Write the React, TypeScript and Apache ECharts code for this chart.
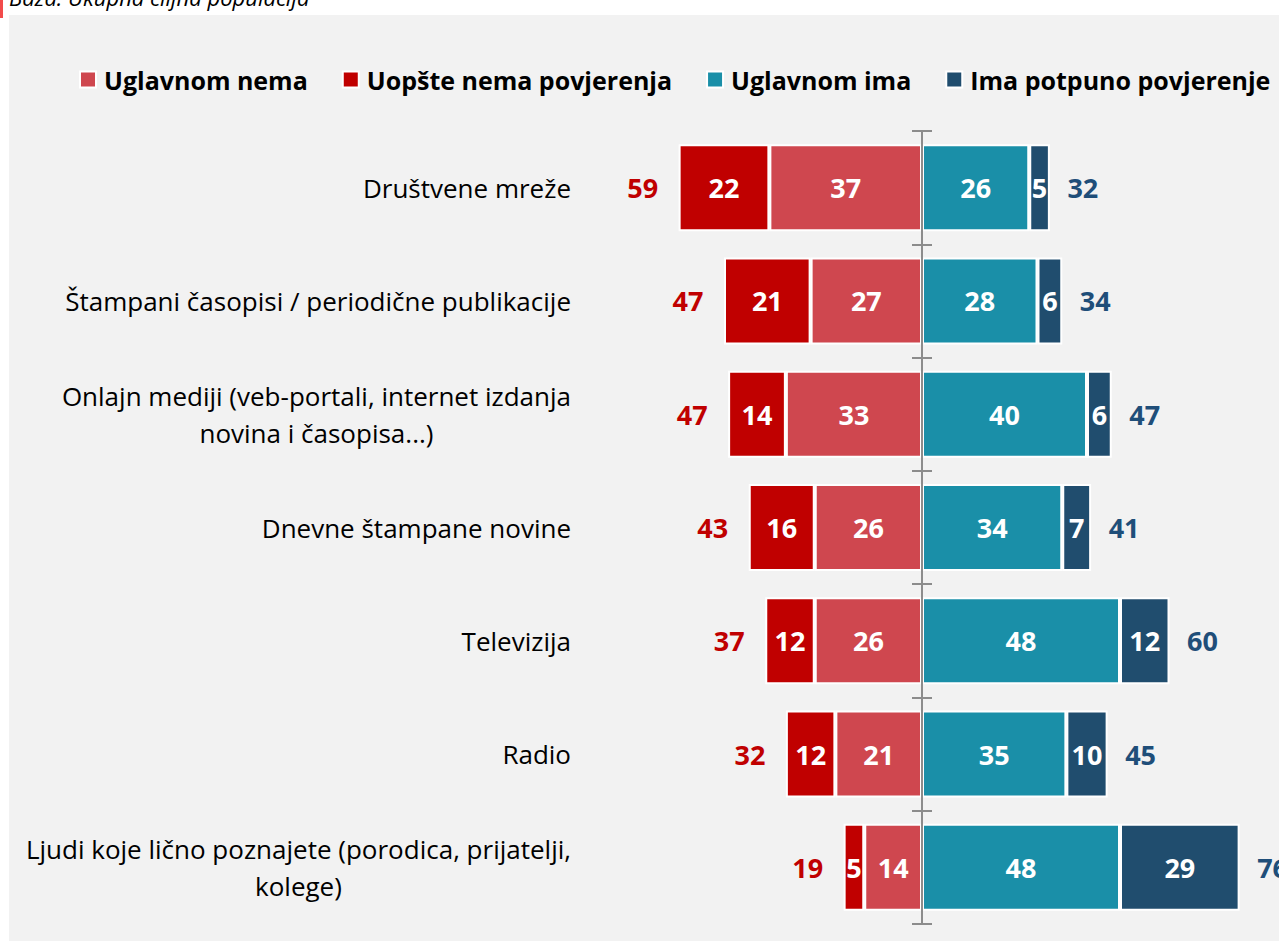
import React, { useEffect, useRef } from "react";
import * as echarts from "echarts";

const categories = [
  "Društvene mreže",
  "Štampani časopisi / periodične publikacije",
  "Onlajn mediji (veb-portali, internet izdanja\nnovina i časopisa...)",
  "Dnevne štampane novine",
  "Televizija",
  "Radio",
  "Ljudi koje lično poznajete (porodica, prijatelji,\nkolege)",
];
const uglavnomNema = [37, 27, 33, 26, 26, 21, 14];
const uopsteNema = [22, 21, 14, 16, 12, 12, 5];
const uglavnomIma = [26, 28, 40, 34, 48, 35, 48];
const potpunoIma = [5, 6, 6, 7, 12, 10, 29];
const totalNema = [59, 47, 47, 43, 37, 32, 19];
const totalIma = [32, 34, 47, 41, 60, 45, 76];

const seriesNames = ["Uglavnom nema", "Uopšte nema povjerenja", "Uglavnom ima", "Ima potpuno povjerenje"];
const colors = ["#CF474F", "#C00000", "#1A8FA8", "#204D6E"];

const FONT = "'Open Sans', 'Noto Sans', sans-serif";

export default function App() {
  const ref = useRef<HTMLDivElement>(null);
  useEffect(() => {
    if (!ref.current) return;
    const chart = echarts.init(ref.current, null, { renderer: "svg" });
    const barLabel = {
      show: true,
      position: "inside",
      color: "#ffffff",
      fontFamily: FONT,
      fontWeight: "bold",
      fontSize: 27,
      formatter: (p: any) => String(Math.abs(p.value)),
    };
    const barCommon = {
      type: "bar",
      stack: "total",
      barWidth: 87,
      label: barLabel,
      emphasis: { disabled: true },
    };
    const leftEnds = uglavnomNema.map((v, i) => [-(v + uopsteNema[i]), categories[i], totalNema[i]]);
    const rightEnds = uglavnomIma.map((v, i) => [v + potpunoIma[i], categories[i], totalIma[i]]);
    const gridLeft = 592;
    const zeroX = 922;
    const totalLabel = (pos: string, dist: number, color: string) => ({
      show: true,
      position: pos,
      distance: dist,
      color,
      opacity: 1,
      fontFamily: FONT,
      fontWeight: "bold",
      fontSize: 27,
      formatter: (p: any) => String(p.value[2]),
    });
    chart.setOption({
      animation: false,
      backgroundColor: "transparent",
      textStyle: { fontFamily: FONT },
      graphic: [
        { type: "rect", shape: { x: 9, y: 15, width: 1280, height: 926 }, style: { fill: "#F2F2F2" }, z: -10 },
        { type: "rect", shape: { x: 0, y: 0, width: 3, height: 18 }, style: { fill: "#F24B4B" }, z: -5 },
        {
          type: "text",
          x: 9,
          y: -14,
          style: {
            text: "Baza: Ukupna ciljna populacija",
            font: "italic 22px 'Open Sans', sans-serif",
            fill: "#000000",
            verticalAlign: "top",
          },
          z: -5,
        },
      ],
      legend: {
        top: 67,
        left: 79,
        width: 1200,
        padding: 0,
        itemWidth: 16,
        itemHeight: 16,
        itemGap: 34,
        icon: "rect",
        data: seriesNames,
        textStyle: { fontFamily: FONT, fontWeight: "bold", fontSize: 25, color: "#000000", padding: [0, 0, 0, 3] },
      },
      grid: { left: gridLeft, right: 27, top: 131, bottom: 21, containLabel: false, outerBoundsMode: "none" },
      xAxis: { type: "value", min: -80, max: 80, show: false, splitLine: { show: false } },
      yAxis: [
        {
          type: "category",
          data: categories,
          inverse: true,
          z: 10,
          axisLine: { onZero: true, lineStyle: { color: "#8C8C8C", width: 2 } },
          axisTick: { show: true, length: 10, lineStyle: { color: "#8C8C8C", width: 2 } },
          axisLabel: {
            margin: gridLeft - 571,
            align: "right",
            color: "#000000",
            fontFamily: FONT,
            fontSize: 26,
            lineHeight: 37,
            formatter: (v: string) =>
              v.includes("\n") ? v.split("\n").map((l) => `{c|${l}}`).join("\n") : v,
            rich: {
              c: { align: "center", fontFamily: FONT, fontSize: 26, lineHeight: 37, color: "#000000" },
            },
          },
        },
        {
          type: "category",
          data: categories,
          inverse: true,
          z: 10,
          position: "left",
          offset: -(zeroX - gridLeft),
          axisLine: { show: false, onZero: false },
          axisTick: { show: true, inside: true, length: 10, lineStyle: { color: "#8C8C8C", width: 2 } },
          axisLabel: { show: false },
        },
      ],
      series: [
        {
          ...barCommon,
          name: seriesNames[0],
          data: uglavnomNema.map((v) => -v),
          itemStyle: { color: colors[0], borderColor: "#ffffff", borderWidth: 2 },
        },
        {
          ...barCommon,
          name: seriesNames[1],
          data: uopsteNema.map((v) => -v),
          itemStyle: { color: colors[1], borderColor: "#ffffff", borderWidth: 2 },
        },
        {
          ...barCommon,
          name: seriesNames[2],
          data: uglavnomIma,
          itemStyle: { color: colors[2], borderColor: "#ffffff", borderWidth: 2 },
        },
        {
          ...barCommon,
          name: seriesNames[3],
          data: potpunoIma,
          itemStyle: { color: colors[3], borderColor: "#ffffff", borderWidth: 2 },
        },
        {
          type: "scatter",
          data: leftEnds,
          symbolSize: 1,
          itemStyle: { color: "rgba(0,0,0,0)", opacity: 1 },
          silent: true,
          label: totalLabel("left", 20, "#C00000"),
        },
        {
          type: "scatter",
          data: rightEnds,
          symbolSize: 1,
          itemStyle: { color: "rgba(0,0,0,0)", opacity: 1 },
          silent: true,
          label: totalLabel("right", 17, "#1F4E79"),
        },
      ],
    });
    return () => chart.dispose();
  }, []);
  return (
    <div
      ref={ref}
      style={{ position: "fixed", left: 0, top: 0, width: 1279, height: 945, background: "#ffffff" }}
    />
  );
}
